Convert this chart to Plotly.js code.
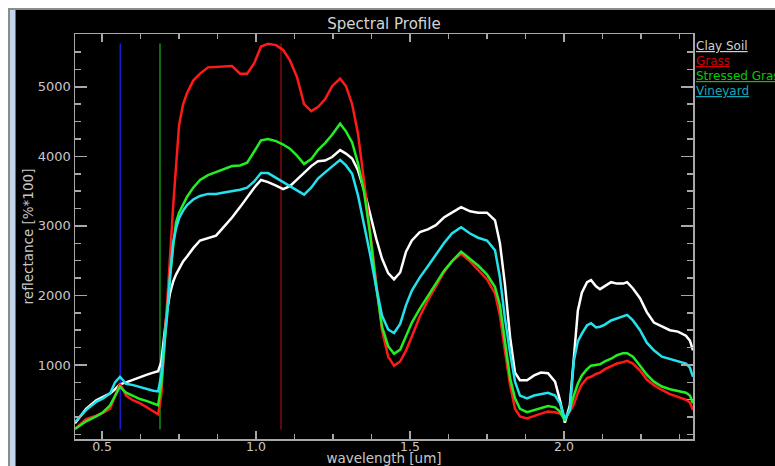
<!DOCTYPE html>
<html>
<head>
<meta charset="utf-8">
<script src="https://cdn.plot.ly/plotly-3.0.1.min.js"></script>
<style>
  html, body { margin: 0; padding: 0; background: #000; }
  #wrap { position: relative; width: 775px; height: 466px; overflow: hidden; }
  #chart { position: absolute; left: 0; top: 0; width: 775px; height: 466px; }
  .fr { position: absolute; pointer-events: none; }
</style>
</head>
<body>
<div id="wrap">
  <div id="chart"></div>
  <div class="fr" style="left:0;top:0;width:775px;height:8px;background:#fff"></div>
  <div class="fr" style="left:0;top:0;width:8px;height:466px;background:#fff"></div>
  <div class="fr" style="left:8px;top:8px;width:767px;height:2px;background:#8c8c8c"></div>
  <div class="fr" style="left:8px;top:8px;width:2px;height:458px;background:#8c8c8c"></div>
  <div class="fr" style="left:10px;top:10px;width:5px;height:456px;background:#c3d5ea"></div>
  <div class="fr" style="left:15px;top:10px;width:1px;height:456px;background:#6e6e6e"></div>
</div>
<script>
// ---- data ----
const wavelength = [0.412,0.448,0.481,0.503,0.526,0.542,0.558,0.578,0.601,0.623,
  0.646,0.666,0.682,0.692,0.701,0.711,0.721,0.731,0.740,0.750,
  0.763,0.776,0.796,0.818,0.844,0.870,0.896,0.922,0.948,0.971,
  0.994,1.016,1.039,1.065,1.088,1.110,1.133,1.156,1.179,1.201,
  1.224,1.247,1.273,1.292,1.312,1.331,1.351,1.370,1.390,1.409,
  1.429,1.448,1.468,1.487,1.506,1.532,1.558,1.584,1.610,1.636,
  1.666,1.695,1.721,1.750,1.776,1.792,1.808,1.825,1.841,1.857,
  1.880,1.903,1.925,1.948,1.971,1.987,2.003,2.019,2.032,2.045,
  2.058,2.075,2.088,2.104,2.117,2.133,2.153,2.172,2.192,2.205,
  2.224,2.247,2.269,2.292,2.318,2.344,2.370,2.396,2.409,2.419];

const claySoil = [160,370,490,540,590,650,720,750,790,820,
  860,890,910,1040,1420,1780,2040,2200,2300,2390,
  2490,2560,2680,2790,2830,2860,2990,3120,3270,3410,
  3550,3660,3630,3580,3530,3570,3670,3760,3860,3930,
  3940,3990,4090,4040,3970,3800,3510,3180,2820,2530,
  2320,2230,2330,2630,2790,2910,2950,3010,3120,3190,
  3270,3210,3190,3190,3080,2750,2170,1400,890,780,
  780,850,890,880,760,490,170,420,1140,1780,
  2040,2190,2220,2130,2090,2140,2190,2170,2170,2190,
  2100,1960,1760,1610,1550,1500,1480,1420,1350,1210];

const grass = [80,220,270,310,370,560,730,560,490,450,
  390,330,290,560,1140,1860,2580,3300,3900,4450,
  4750,4910,5090,5190,5280,5290,5300,5300,5190,5190,
  5340,5580,5620,5600,5530,5380,5140,4750,4650,4710,
  4820,5010,5120,5010,4750,4330,3630,2940,2170,1500,
  1120,990,1050,1210,1410,1700,1930,2120,2330,2490,
  2600,2490,2360,2230,2030,1710,1210,710,370,260,
  230,270,300,330,320,300,240,330,430,600,
  720,810,830,870,890,940,980,1020,1040,1060,
  1020,920,790,710,640,580,540,500,460,350];

const stressedGrass = [80,190,260,320,420,550,690,600,550,510,
  480,450,420,710,1210,1710,2290,2720,3050,3190,
  3310,3420,3550,3660,3730,3770,3820,3860,3870,3910,
  4070,4230,4250,4220,4170,4110,4010,3890,3960,4090,
  4190,4310,4470,4360,4200,3900,3480,2890,2130,1550,
  1270,1160,1220,1420,1610,1810,2000,2170,2350,2490,
  2630,2530,2430,2300,2120,1860,1350,810,520,370,
  320,350,380,410,390,330,200,360,560,730,
  850,940,990,1000,1010,1050,1090,1140,1170,1170,
  1120,990,860,760,690,650,620,600,560,450];

const vineyard = [180,350,470,520,590,750,830,730,710,680,
  650,630,620,850,1280,1710,2290,2760,2960,3110,
  3220,3300,3380,3430,3460,3460,3480,3500,3520,3550,
  3640,3760,3760,3690,3630,3570,3510,3450,3550,3680,
  3770,3850,3950,3870,3750,3440,3020,2600,2120,1710,
  1510,1460,1590,1860,2070,2260,2420,2590,2750,2890,
  2980,2890,2830,2790,2650,2260,1680,1170,760,560,
  520,560,580,600,560,450,220,350,1060,1340,
  1450,1570,1600,1540,1550,1580,1640,1670,1710,1720,
  1640,1500,1320,1210,1120,1090,1060,1020,960,830];

const seriesNames = ['Clay Soil', 'Grass', 'Stressed Grass', 'Vineyard'];
const bandWavelengths = [0.559, 0.688, 1.081];   // blue, green, red band markers
const bandSpan = [70, 5625];
const xTickVals = [0.5, 1.0, 1.5, 2.0];
const yTickVals = [1000, 2000, 3000, 4000, 5000];

// ---- styling ----
const FONT = 'DejaVu Sans, sans-serif';
const AXC = '#a8a8a8';
const TXC = '#c8c8c8';
const lineColors = ['#ffffff', '#ff1a1a', '#22ee22', '#22e2ee'];
const legendColors = ['#d2d2d2', '#cc0000', '#00cc00', '#10aab8'];
const bandColors = ['#1a1acc', '#109010', '#c01010'];
const bandWidths = [1.5, 1.5, 1];

const values = [claySoil, grass, stressedGrass, vineyard];
const traces = [];
bandWavelengths.forEach((w, i) => {
  traces.push({x: [w, w], y: bandSpan, mode: 'lines', type: 'scatter',
    line: {color: bandColors[i], width: bandWidths[i]}, showlegend: false, hoverinfo: 'skip'});
});
values.forEach((v, i) => {
  traces.push({x: wavelength, y: v, mode: 'lines', type: 'scatter', name: seriesNames[i],
    line: {color: lineColors[i], width: 2.5, shape: 'linear'}, showlegend: false});
});

const legY = [0.9704, 0.9333, 0.8963, 0.8593];
const annotations = seriesNames.map((n, i) => ({
  text: n, xref: 'paper', yref: 'paper', x: 1.0016, y: legY[i],
  xanchor: 'left', yanchor: 'middle', showarrow: false,
  font: {family: FONT, size: 12, color: legendColors[i], lineposition: 'under'}
}));

const axisCommon = {
  showline: true, linecolor: AXC, linewidth: 1.5, mirror: 'ticks',
  ticks: 'inside', tickcolor: AXC, tickwidth: 1.5,
  showgrid: false, zeroline: false,
  tickfont: {family: FONT, size: 13, color: TXC}
};

const layout = {
  width: 775, height: 466,
  margin: {l: 75, r: 82, t: 34, b: 27, pad: 0},
  paper_bgcolor: '#000', plot_bgcolor: '#000',
  showlegend: false,
  title: {text: 'Spectral Profile', font: {family: FONT, size: 15, color: '#d4d4d4'},
    x: 0.5, xref: 'paper', xanchor: 'center', y: 1 - 24/466, yref: 'container', yanchor: 'middle'},
  xaxis: Object.assign({}, axisCommon, {
    range: [0.412, 2.419], tickmode: 'array', tickvals: xTickVals, tickformat: '.1f',
    ticklen: 8, ticklabelstandoff: -5,
    tickfont: {family: FONT, size: 12.5, color: TXC},
    minor: {tick0: 0.5, dtick: 0.125, ticks: 'inside', ticklen: 5, tickcolor: AXC, tickwidth: 1.5, showgrid: false},
    title: {text: 'wavelength [um]', font: {family: FONT, size: 13.5, color: TXC}, standoff: 0}
  }),
  yaxis: Object.assign({}, axisCommon, {
    range: [-65, 5760], tickmode: 'array', tickvals: yTickVals,
    ticklen: 12,
    minor: {tick0: 0, dtick: 250, ticks: 'inside', ticklen: 6, tickcolor: AXC, tickwidth: 1.5, showgrid: false},
    title: {text: 'reflectance [%*100]', font: {family: FONT, size: 13.5, color: TXC}}
  }),
  annotations: annotations
};

Plotly.newPlot('chart', traces, layout, {staticPlot: true, displayModeBar: false});
</script>
</body>
</html>
